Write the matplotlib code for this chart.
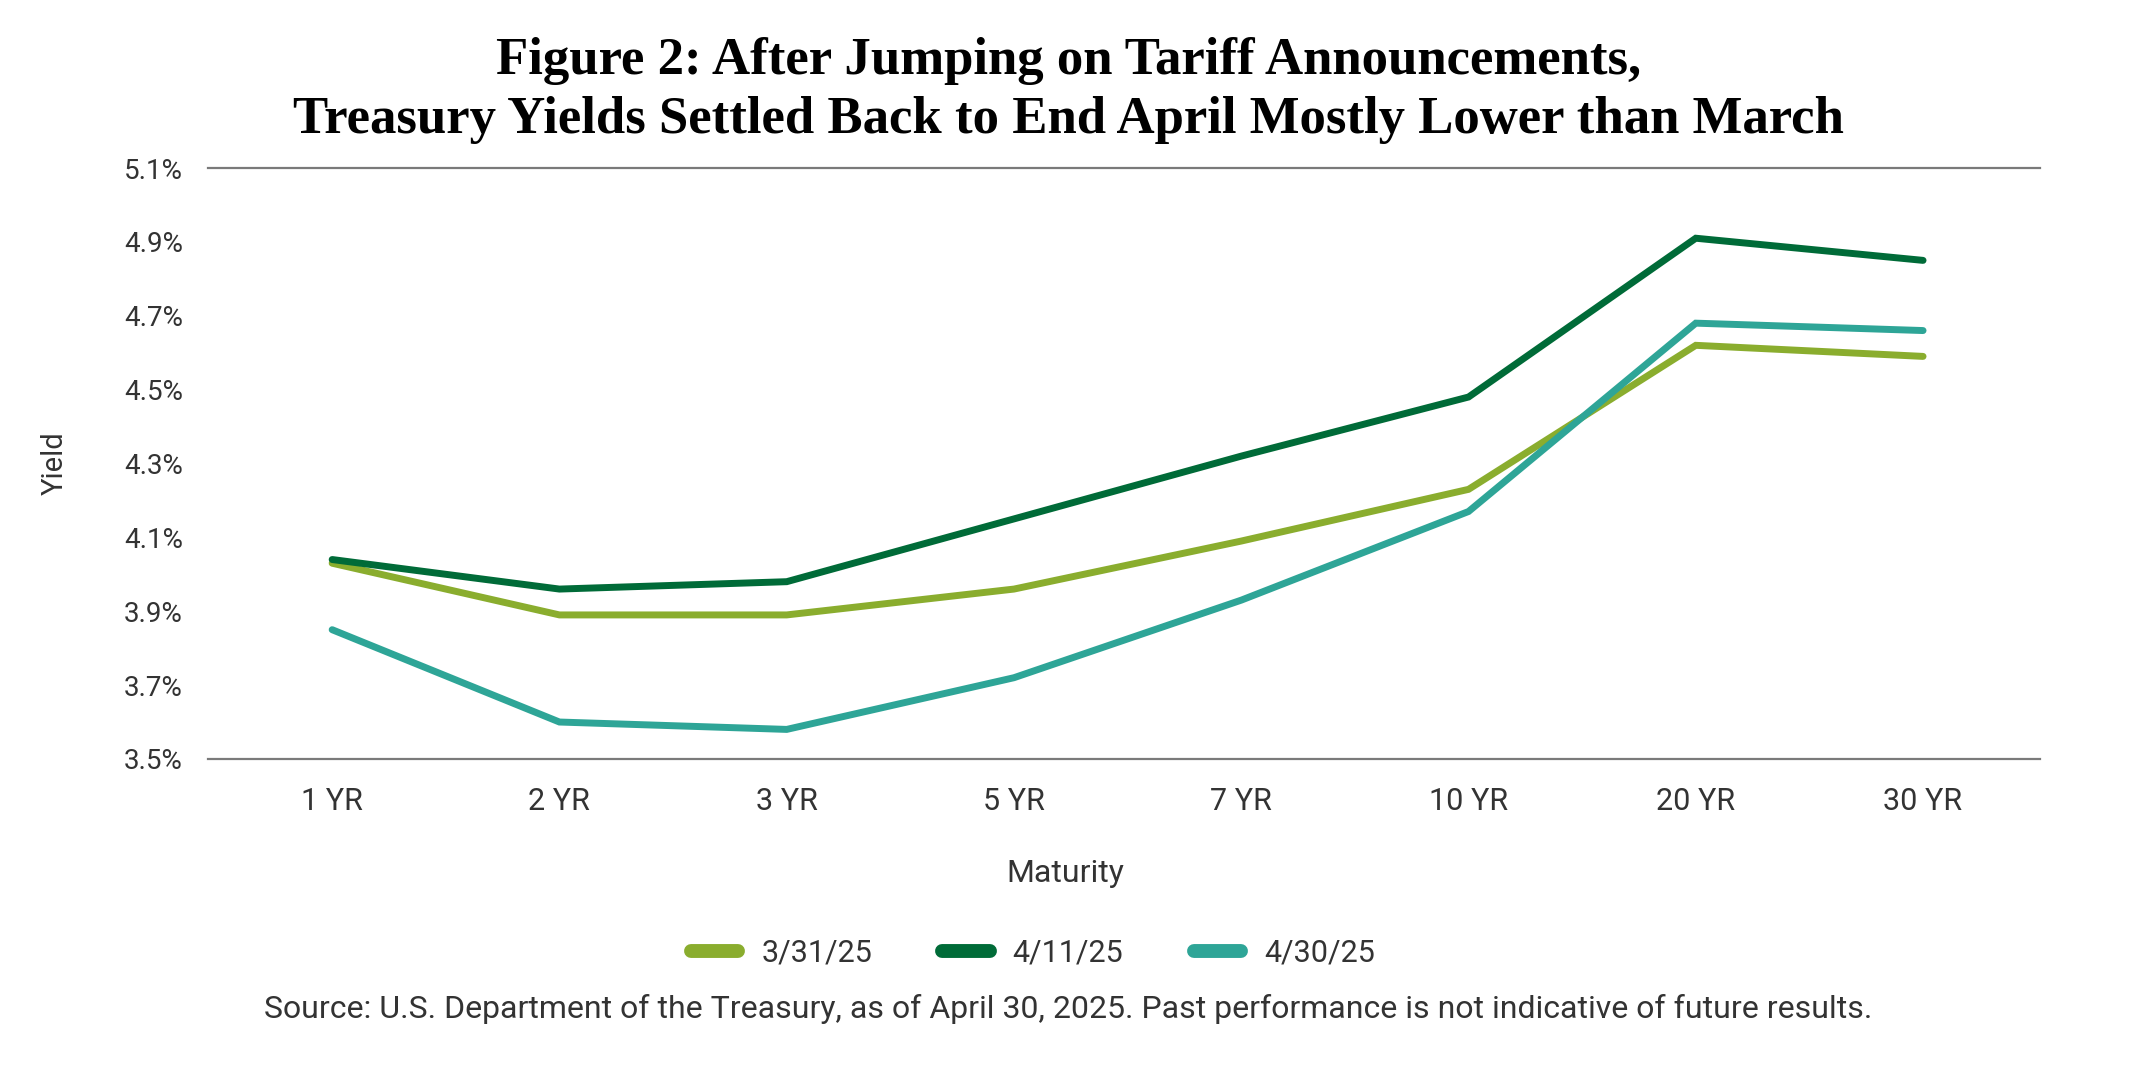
import matplotlib
matplotlib.use('Agg')
import matplotlib.pyplot as plt

# Datos
vencimientos = ['1 YR', '2 YR', '3 YR', '5 YR', '7 YR', '10 YR', '20 YR', '30 YR']
rend_mar31 = [4.03, 3.89, 3.89, 3.96, 4.09, 4.23, 4.62, 4.59]
rend_abr11 = [4.04, 3.96, 3.98, 4.15, 4.32, 4.48, 4.91, 4.85]
rend_abr30 = [3.85, 3.60, 3.58, 3.72, 3.93, 4.17, 4.68, 4.66]
etiquetas = ['3/31/25', '4/11/25', '4/30/25']
ticks_y = [3.5, 3.7, 3.9, 4.1, 4.3, 4.5, 4.7, 4.9, 5.1]

colores = ['#8aad2e', '#006b38', '#2ea597']
gris_texto = '#333333'
fuente = 'Roboto'
fuente_titulo = 'Liberation Serif'

fig = plt.figure(figsize=(21.34, 10.67), dpi=100)
ax = fig.add_axes([0.0975, 0.2887, 0.956 - 0.0975, 0.8425 - 0.2887])

x = list(range(len(vencimientos)))
for serie, color, etiqueta in zip([rend_mar31, rend_abr11, rend_abr30], colores, etiquetas):
    ax.plot(x, serie, color=color, lw=5, label=etiqueta, solid_capstyle='round', solid_joinstyle='miter')

ax.set_ylim(3.5, 5.1)
ax.set_xlim(-0.546, 7.515)
ax.set_yticks(ticks_y)
ax.set_yticklabels([f'{t:.1f}%' for t in ticks_y], fontsize=20, color=gris_texto, family=fuente)
ax.set_xticks(x)
ax.set_xticklabels(vencimientos, fontsize=22, color=gris_texto, family=fuente)
ax.tick_params(axis='both', length=0)
ax.tick_params(axis='y', pad=18)
ax.tick_params(axis='x', pad=20)

for s in ['left', 'right', 'top', 'bottom']:
    ax.spines[s].set_visible(False)
for yv in [3.5, 5.1]:
    ax.axhline(yv, color='#7a7a7a', lw=1.6, zorder=0, clip_on=False)

fig.text(0.5006, 0.943, 'Figure 2: After Jumping on Tariff Announcements,', ha='center', va='center',
         fontsize=38, fontweight='bold', family=fuente_titulo, color='black')
fig.text(0.5006, 0.888, 'Treasury Yields Settled Back to End April Mostly Lower than March', ha='center',
         va='center', fontsize=38, fontweight='bold', family=fuente_titulo, color='black')

fig.text(0.4994, 0.181, 'Maturity', ha='center', va='center', fontsize=23, color=gris_texto, family=fuente)
fig.text(0.0255, 0.566, 'Yield', ha='center', va='center', rotation=90, fontsize=21, color=gris_texto, family=fuente)

leg = fig.legend(loc='center', bbox_to_anchor=(0.484, 0.107), ncol=3, frameon=False,
                 prop={'family': fuente, 'size': 22}, handlelength=1.55, handletextpad=0.75,
                 columnspacing=2.3, labelcolor=gris_texto)
for linea in leg.get_lines():
    linea.set_linewidth(10)
    linea.set_solid_capstyle('round')

fig.text(0.5006, 0.0548, 'Source: U.S. Department of the Treasury, as of April 30, 2025. Past performance is not indicative of future results.',
         ha='center', va='center', fontsize=23, color=gris_texto, family=fuente)

fig.savefig('out.png', dpi=100)
